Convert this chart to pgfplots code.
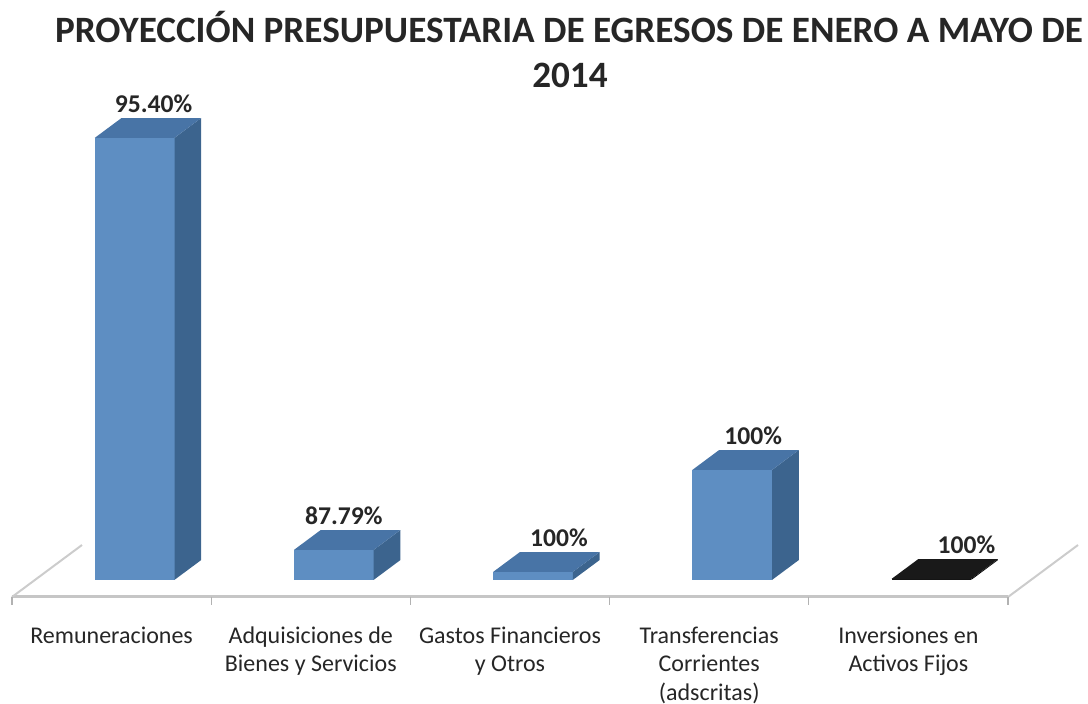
\documentclass[border=0pt]{standalone}
\usepackage{pgfplots}
\pgfplotsset{compat=1.18}
\usepackage{fontspec}
\setmainfont{Carlito}
\definecolor{bfront}{RGB}{94,142,194}
\definecolor{bside}{RGB}{60,100,142}
\definecolor{btop}{RGB}{72,116,166}
\definecolor{kfront}{RGB}{20,20,20}
\definecolor{kside}{RGB}{10,10,10}
\definecolor{ktop}{RGB}{25,25,25}
% #1 left x, #2 right x, #3 value (height), #4 prefix of colours
\newcommand{\cuboid}[4]{%
  \addplot3[fill=#4front,draw=none] coordinates {(#1,0.33,0) (#2,0.33,0) (#2,0.33,#3) (#1,0.33,#3)};
  \addplot3[fill=#4side,draw=none] coordinates {(#2,0.33,0) (#2,0.71,0) (#2,0.71,#3) (#2,0.33,#3)};
  \addplot3[fill=#4top,draw=none] coordinates {(#1,0.33,#3) (#2,0.33,#3) (#2,0.71,#3) (#1,0.71,#3)};
}
\begin{document}
\begin{tikzpicture}
\begin{axis}[
  x={(99.6pt,0pt)}, y={(35pt,26pt)}, z={(0pt,0.5pt)},
  xmin=0,xmax=5,ymin=0,ymax=1,zmin=0,zmax=450,
  hide axis, clip=false,
]
\draw[draw=none] (axis cs:-0.0602,0,-105) rectangle (axis cs:5.4016,0,597);
% floor
\addplot3[gray!45, line width=1.5pt] coordinates {(0,0,0) (5,0,0)};
\addplot3[gray!40, line width=1pt] coordinates {(0,0,0) (0,1,0)};
\addplot3[gray!40, line width=1pt] coordinates {(5,0,0) (5,1,0)};
\pgfplotsinvokeforeach{0,1,2,3,4,5}{
  \addplot3[gray!60, line width=0.6pt] coordinates {(#1,0,0) (#1,0,-8)};
}
% bars
\cuboid{0.3}{0.7}{442}{b}
\cuboid{1.3}{1.7}{30}{b}
\cuboid{2.3}{2.7}{8}{b}
\cuboid{3.3}{3.7}{110}{b}
\cuboid{4.3}{4.7}{1}{k}
% data labels
\begin{scope}[every node/.style={font=\bfseries\fontsize{12.8}{15}\selectfont, anchor=base, text=black!85, inner sep=0pt}]
\node[yshift=5.5pt] at (axis cs:0.5,0.6,442) {95.40\%};
\node[yshift=5.5pt, xshift=-4.5pt] at (axis cs:1.5,0.6,30) {87.79\%};
\node[yshift=5.5pt, xshift=3.5pt] at (axis cs:2.5,0.6,8) {100\%};
\node[yshift=5.5pt, xshift=1pt] at (axis cs:3.5,0.6,110) {100\%};
\node[yshift=5.5pt, xshift=8pt] at (axis cs:4.5,0.6,1) {100\%};
\end{scope}
% category labels
\begin{scope}[every node/.style={font=\fontsize{12}{14.25}\selectfont, align=center, anchor=north, text=black!85, inner sep=0pt}]
\node[yshift=-13pt] at (axis cs:0.5,0,0) {\strut Remuneraciones};
\node[yshift=-13pt] at (axis cs:1.5,0,0) {\strut Adquisiciones de\\Bienes y Servicios};
\node[yshift=-13pt] at (axis cs:2.5,0,0) {\strut Gastos Financieros\\y Otros};
\node[yshift=-13pt] at (axis cs:3.5,0,0) {\strut Transferencias\\Corrientes\\(adscritas)};
\node[yshift=-13pt] at (axis cs:4.5,0,0) {\strut Inversiones en\\Activos Fijos};
\end{scope}
% title
\node[font=\bfseries\fontsize{18.6}{23}\selectfont, anchor=base, text=black!85, inner sep=0pt] at (axis cs:2.796,0,554) {PROYECCIÓN PRESUPUESTARIA DE EGRESOS DE ENERO A MAYO DE};
\node[font=\bfseries\fontsize{18.6}{23}\selectfont, anchor=base, text=black!85, inner sep=0pt] at (axis cs:2.801,0,509) {2014};
\end{axis}
\end{tikzpicture}
\end{document}
